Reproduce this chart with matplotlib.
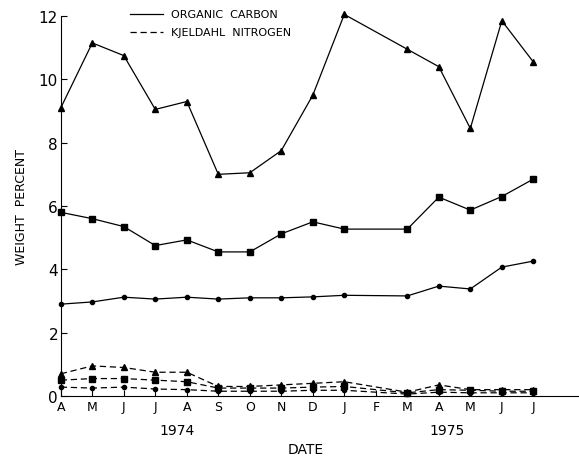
import matplotlib.pyplot as plt

# month index from April 1974 (0) to July 1975 (15); no sample in Feb 1975 (10)
months = [0, 1, 2, 3, 4, 5, 6, 7, 8, 9, 11, 12, 13, 14, 15]
month_labels = ['A', 'M', 'J', 'J', 'A', 'S', 'O', 'N', 'D', 'J', 'F', 'M', 'A', 'M', 'J', 'J']

# organic carbon, weight percent
carbon_tri = [9.1, 11.15, 10.75, 9.05, 9.3, 7.0, 7.05, 7.75, 9.5, 12.05, 10.95, 10.4, 8.45, 11.85, 10.55]
carbon_sq = [5.8, 5.6, 5.35, 4.75, 4.93, 4.55, 4.55, 5.12, 5.5, 5.27, 5.27, 6.28, 5.87, 6.3, 6.85]
carbon_dot = [2.9, 2.97, 3.12, 3.06, 3.12, 3.06, 3.1, 3.1, 3.13, 3.18, 3.16, 3.47, 3.38, 4.07, 4.26]

# kjeldahl nitrogen, weight percent
nitro_tri = [0.7, 0.95, 0.9, 0.75, 0.75, 0.3, 0.3, 0.35, 0.4, 0.45, 0.12, 0.35, 0.2, 0.2, 0.2]
nitro_sq = [0.5, 0.55, 0.55, 0.5, 0.45, 0.25, 0.25, 0.25, 0.28, 0.3, 0.1, 0.2, 0.18, 0.15, 0.15]
nitro_dot = [0.28, 0.25, 0.28, 0.22, 0.2, 0.15, 0.15, 0.15, 0.18, 0.18, 0.06, 0.12, 0.1, 0.1, 0.1]

fig = plt.figure(figsize=(5.79, 4.6), dpi=100)
ax = fig.add_axes([0.105, 0.137, 0.895, 0.826])

lw = 0.9
ax.plot(months, carbon_tri, '-', color='black', lw=lw, marker='^', ms=5, clip_on=False)
ax.plot(months, carbon_sq, '-', color='black', lw=lw, marker='s', ms=4, clip_on=False)
ax.plot(months, carbon_dot, '-', color='black', lw=lw, marker='o', ms=3, clip_on=False)

dash = (0, (5, 3))
ax.plot(months, nitro_tri, color='black', lw=lw, ls=dash, marker='^', ms=5, clip_on=False)
ax.plot(months, nitro_sq, color='black', lw=lw, ls=dash, marker='s', ms=4, clip_on=False)
ax.plot(months, nitro_dot, color='black', lw=lw, ls=dash, marker='o', ms=3, clip_on=False)

ax.set_xlim(0, 16.45)
ax.set_ylim(0, 12)
ax.spines['top'].set_visible(False)
ax.spines['right'].set_visible(False)
ax.set_yticks([0, 2, 4, 6, 8, 10, 12])
ax.set_xticks(range(16))
ax.set_xticklabels(month_labels)
ax.tick_params(axis='y', direction='in', length=4, labelsize=11, pad=2)
ax.tick_params(axis='x', direction='in', length=4, labelsize=9, pad=3)

ax.set_ylabel('WEIGHT  PERCENT', fontsize=9, labelpad=8)
fig.text(0.528, 0.012, 'DATE', fontsize=10, ha='center')
ax.text(3.68, -0.85, '1974', fontsize=10, ha='center', va='top')
ax.text(12.25, -0.85, '1975', fontsize=10, ha='center', va='top')

# legend
ax.plot([2.2, 3.25], [12.05, 12.05], '-', color='black', lw=lw, clip_on=False)
ax.plot([2.2, 3.25], [11.5, 11.5], color='black', lw=lw, ls=dash, clip_on=False)
ax.text(3.5, 12.05, 'ORGANIC  CARBON', fontsize=8, va='center')
ax.text(3.5, 11.5, 'KJELDAHL  NITROGEN', fontsize=8, va='center')

plt.savefig('out.png', dpi=100)
